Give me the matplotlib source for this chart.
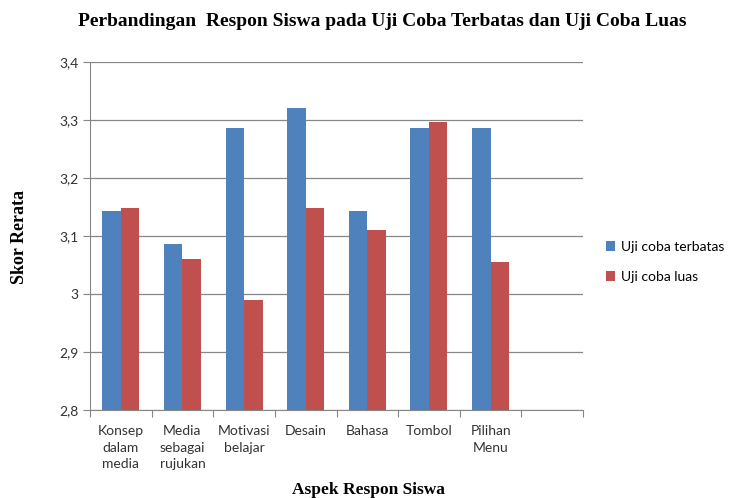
import matplotlib.pyplot as plt
import numpy as np

categories = ["Konsep\ndalam\nmedia", "Media\nsebagai\nrujukan", "Motivasi\nbelajar",
              "Desain", "Bahasa", "Tombol", "Pilihan\nMenu", ""]
terbatas = [3.143, 3.086, 3.286, 3.321, 3.143, 3.286, 3.286]
luas = [3.148, 3.060, 2.990, 3.148, 3.110, 3.296, 3.055]
yticks = [2.8, 2.9, 3.0, 3.1, 3.2, 3.3, 3.4]

blue = "#4F81BD"
red = "#C0504D"
grey = "#868686"

fig = plt.figure(figsize=(7.29, 4.98), dpi=100)
ax = fig.add_axes([90/729, 1-410/498, 493/729, 348/498])

n = len(categories)
x = np.arange(len(terbatas)) + 0.5
w = 0.3
ax.bar(x - w/2, terbatas, w, color=blue, label="Uji coba terbatas", zorder=3)
ax.bar(x + w/2, luas, w, color=red, label="Uji coba luas", zorder=3)

ax.set_xlim(0, n)
ax.set_ylim(2.8, 3.4)
ax.set_yticks(yticks)
ax.set_yticklabels([("%g" % v).replace(".", ",") for v in yticks],
                   family="Lato", fontsize=10, color="#333333")
ax.yaxis.grid(True, color=grey, linewidth=0.9, zorder=0)
ax.set_xticks(np.arange(n + 1))
ax.set_xticklabels([])
ax.set_xticks(np.arange(n) + 0.5, minor=True)
ax.set_xticklabels(categories, minor=True, family="Lato", fontsize=10,
                   color="#333333", va="top", linespacing=1.45)
ax.tick_params(axis="x", which="minor", length=0, pad=11)
ax.tick_params(axis="x", which="major", length=5, color=grey)
ax.tick_params(axis="y", length=5, color=grey)
for s in ["top", "right"]:
    ax.spines[s].set_visible(False)
for s in ["left", "bottom"]:
    ax.spines[s].set_color(grey)

fig.text(382/729, 1-21/498, "Perbandingan  Respon Siswa pada Uji Coba Terbatas dan Uji Coba Luas",
         family="Liberation Serif", fontweight="bold", fontsize=14, ha="center", va="center")
fig.text(368/729, 1-490/498, "Aspek Respon Siswa", family="Liberation Serif",
         fontweight="bold", fontsize=12.5, ha="center", va="center")
fig.text(20/729, 1-237/498, "Skor Rerata", family="Liberation Serif",
         fontweight="bold", fontsize=13, ha="center", va="center", rotation=90)

fig.legend(loc="center left", bbox_to_anchor=(596/729, 1-262/498), frameon=False,
           prop={"family": "Lato", "size": 10}, handlelength=0.7, handleheight=0.7,
           handletextpad=0.4, labelspacing=1.3, borderpad=0.2)

fig.savefig("out.png", dpi=100)
